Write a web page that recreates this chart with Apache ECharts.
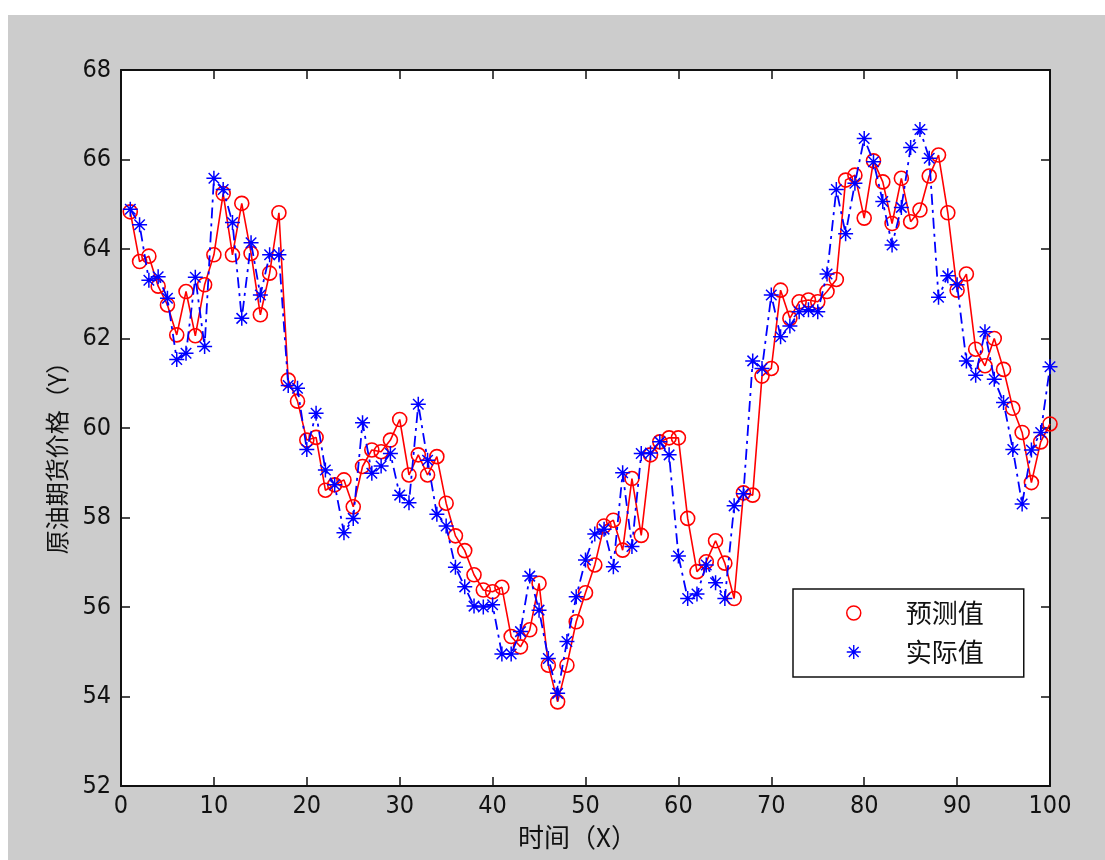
<!DOCTYPE html>
<html><head><meta charset="utf-8">
<script src="https://cdn.jsdelivr.net/npm/echarts@6/dist/echarts.min.js"></script>
<style>
html,body{margin:0;padding:0;background:#ffffff;}
#bg{position:absolute;left:8px;top:15px;width:1097px;height:845px;background:#cccccc;}
#chart{position:absolute;left:0;top:0;width:1105px;height:860px;}
</style></head>
<body><div id="bg"></div><div id="chart"></div>
<script>
// 预测值 (predicted), points 1..100
const predicted = [
  64.83, 63.72, 63.84, 63.17, 62.75, 62.08, 63.05, 62.06, 63.20, 63.87,
  65.24, 63.87, 65.02, 63.90, 62.53, 63.46, 64.81, 61.07, 60.60, 59.73,
  59.79, 58.61, 58.73, 58.84, 58.24, 59.14, 59.51, 59.47, 59.73, 60.19,
  58.95, 59.40, 58.95, 59.36, 58.32, 57.59, 57.26, 56.72, 56.38, 56.34,
  56.44, 55.34, 55.11, 55.49, 56.53, 54.70, 53.88, 54.70, 55.67, 56.32,
  56.94, 57.81, 57.94, 57.27, 58.87, 57.60, 59.40, 59.69, 59.78, 59.78,
  57.98, 56.79, 57.01, 57.48, 56.98, 56.19, 58.55, 58.50, 61.16, 61.33,
  63.08, 62.45, 62.82, 62.86, 62.82, 63.05, 63.32, 65.54, 65.65, 64.69,
  65.97, 65.50, 64.57, 65.58, 64.61, 64.87, 65.63, 66.10, 64.81, 63.08,
  63.44, 61.76, 61.39, 62.00, 61.31, 60.44, 59.90, 58.78, 59.69, 60.09
];
// 实际值 (actual), points 1..100
const actual = [
  64.89, 64.54, 63.30, 63.38, 62.90, 61.53, 61.67, 63.37, 61.82, 65.58,
  65.33, 64.59, 62.45, 64.14, 62.97, 63.87, 63.87, 60.95, 60.89, 59.52,
  60.33, 59.06, 58.73, 57.66, 57.98, 60.12, 58.99, 59.15, 59.43, 58.50,
  58.33, 60.53, 59.28, 58.07, 57.81, 56.89, 56.45, 56.02, 56.00, 56.05,
  54.95, 54.95, 55.45, 56.69, 55.93, 54.85, 54.07, 55.23, 56.23, 57.05,
  57.63, 57.74, 56.90, 59.00, 57.35, 59.43, 59.44, 59.69, 59.40, 57.14,
  56.19, 56.29, 56.94, 56.54, 56.19, 58.26, 58.53, 61.50, 61.33, 62.97,
  62.04, 62.28, 62.60, 62.64, 62.60, 63.44, 65.33, 64.34, 65.47, 66.47,
  65.95, 65.06, 64.09, 64.93, 66.27, 66.67, 66.03, 62.92, 63.40, 63.20,
  61.50, 61.18, 62.15, 61.09, 60.57, 59.52, 58.30, 59.51, 59.90, 61.37
];
const seriesNames = ['预测值', '实际值'];
const xName = '时间（X）';
const yName = '原油期货价格（Y）';

const starPath = 'path://M0 9L20 9L20 11L0 11Z M9 0L11 0L11 20L9 20Z ' +
  'M3.7 2.3L17.7 16.3L16.3 17.7L2.3 3.7Z M17.7 3.7L3.7 17.7L2.3 16.3L16.3 2.3Z M8 8L12 8L12 12L8 12Z';

const numFont = "'Liberation Sans Narrow','DejaVu Sans Condensed','Arial Narrow',sans-serif";
const cjkFont = "'Noto Sans CJK SC',sans-serif";

const chart = echarts.init(document.getElementById('chart'), null, {renderer: 'canvas'});

const axisLineStyle = {color: '#111', width: 2};
const baseX = {
  type: 'value', min: 0, max: 100, interval: 10,
  axisLine: {show: true, onZero: false, lineStyle: axisLineStyle},
  axisTick: {show: true, inside: true, length: 9, lineStyle: {color: '#111', width: 1.5}},
  splitLine: {show: false}
};
const baseY = {
  type: 'value', min: 52, max: 68, interval: 2,
  axisLine: {show: true, onZero: false, lineStyle: axisLineStyle},
  axisTick: {show: true, inside: true, length: 9, lineStyle: {color: '#111', width: 1.5}},
  splitLine: {show: false}
};

chart.setOption({
  animation: false,
  backgroundColor: 'transparent',
  grid: {left: 121, right: 55, top: 70, bottom: 74, show: true, backgroundColor: '#ffffff', borderWidth: 0},
  xAxis: [
    Object.assign({}, baseX, {
      position: 'bottom',
      name: xName, nameLocation: 'middle', nameGap: 35,
      nameTextStyle: {fontFamily: cjkFont, fontSize: 26, color: '#111', padding: [0, 16, 0, 0]},
      axisLabel: {show: true, margin: 8, fontFamily: numFont, fontSize: 25, color: '#111'}
    }),
    Object.assign({}, baseX, {position: 'top', axisLabel: {show: false}})
  ],
  yAxis: [
    Object.assign({}, baseY, {
      position: 'left',
      name: yName, nameLocation: 'middle', nameGap: 52,
      nameTextStyle: {fontFamily: cjkFont, fontSize: 24, color: '#111', padding: [0, 48, 0, 0]},
      axisLabel: {show: true, margin: 10, fontFamily: numFont, fontSize: 25, color: '#111'}
    }),
    Object.assign({}, baseY, {position: 'right', axisLabel: {show: false}})
  ],
  legend: {
    orient: 'vertical', left: 793, top: 589,
    selectedMode: false,
    backgroundColor: '#ffffff', borderColor: '#111', borderWidth: 1.5, borderRadius: 0,
    padding: [11, 40, 12, 53],
    itemWidth: 94, itemHeight: 14, itemGap: 13,
    textStyle: {fontFamily: cjkFont, fontSize: 26, color: '#111', lineHeight: 26},
    data: [
      {name: seriesNames[0], icon: 'circle', itemStyle: {color: 'rgba(0,0,0,0)', borderColor: '#ff0000', borderWidth: 1.5}},
      {name: seriesNames[1], icon: starPath, itemStyle: {color: '#0000ff', borderWidth: 0}}
    ]
  },
  series: [
    {
      name: seriesNames[0], type: 'line',
      data: predicted.map((v, i) => [i + 1, v]),
      symbol: 'circle', symbolSize: 14,
      itemStyle: {color: 'rgba(0,0,0,0)', borderColor: '#ff0000', borderWidth: 1.6},
      lineStyle: {color: '#ff0000', width: 1.6},
      emphasis: {disabled: true}, z: 2
    },
    {
      name: seriesNames[1], type: 'line',
      data: actual.map((v, i) => [i + 1, v]),
      symbol: starPath, symbolSize: 15,
      itemStyle: {color: '#0000ff'},
      lineStyle: {color: '#0000ff', width: 1.8, type: [11, 5, 3, 5]},
      emphasis: {disabled: true}, z: 3
    }
  ]
});
</script>
</body></html>
